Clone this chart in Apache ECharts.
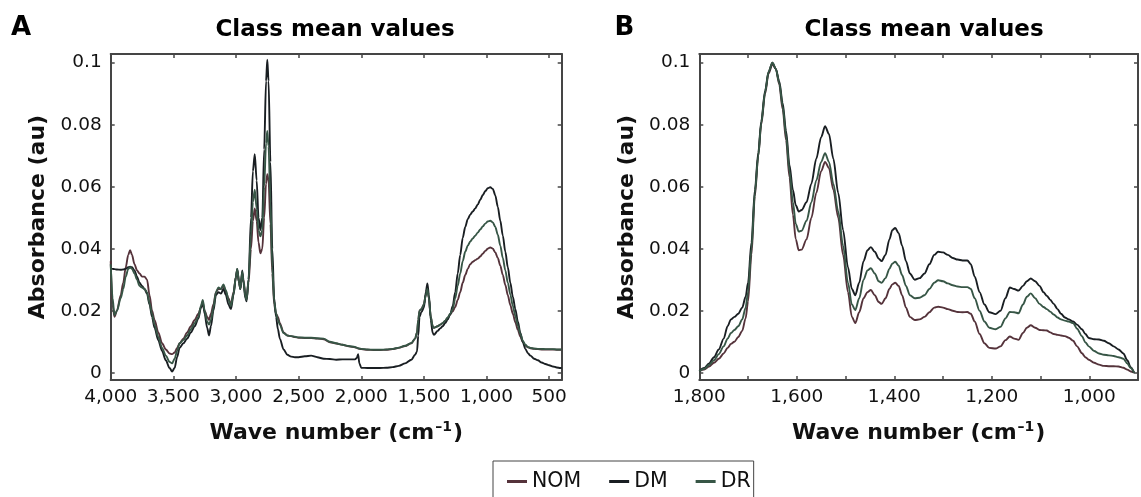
<!DOCTYPE html>
<html><head><meta charset="utf-8">
<script src="https://cdn.jsdelivr.net/npm/echarts@6/dist/echarts.min.js"></script>
<style>html,body{margin:0;padding:0;background:#fff}#c{width:1141px;height:497px}</style>
</head><body><div id="c"></div>
<script>
// ---------- Panel A data (wave number, cm-1) ----------
const wnA = [4000,3985,3970,3950,3920,3900,3880,3860,3845,3830,
3810,3790,3770,3750,3730,3710,3690,3670,3650,3620,
3590,3560,3530,3510,3490,3470,3450,3420,3390,3360,
3330,3300,3280,3265,3250,3230,3215,3200,3180,3160,
3140,3120,3100,3080,3060,3040,3020,3000,2990,2975,
2965,2950,2940,2925,2915,2900,2880,2865,2850,2835,
2820,2805,2790,2775,2760,2750,2740,2725,2710,2695,
2680,2665,2650,2620,2590,2560,2530,2500,2450,2400,
2350,2300,2250,2200,2150,2100,2050,2035,2025,2015,
2000,1950,1900,1850,1800,1750,1700,1650,1600,1570,
1555,1545,1535,1520,1500,1485,1472,1460,1445,1430,
1420,1390,1370,1350,1330,1310,1290,1270,1250,1230,
1210,1190,1170,1150,1130,1110,1090,1070,1050,1030,
1010,990,970,950,930,910,890,870,850,830,
810,790,770,750,730,710,690,670,650,620,
590,560,530,500,470,440,410,400];
const nomA = [.036,.022,.018,.020,.025,.029,.034,.038,.0395,.038,
.035,.033,.032,.031,.031,.030,.025,.020,.017,.013,
.0095,.0075,.0062,.006,.0065,.008,.0095,.011,.013,.015,
.017,.019,.021,.022,.020,.018,.017,.019,.022,.026,
.027,.027,.028,.026,.024,.022,.026,.031,.033,.029,
.027,.032,.030,.025,.024,.029,.040,.049,.053,.049,
.042,.0385,.040,.050,.061,.064,.062,.048,.032,.022,
.019,.018,.016,.013,.012,.0118,.0115,.0113,.0112,.0112,
.011,.0108,.0098,.0094,.009,.0085,.0082,.008,.0078,.0077,
.0076,.0074,.0073,.0073,.0074,.0076,.008,.0086,.0095,.011,
.013,.017,.020,.0205,.022,.025,.027,.024,.018,.015,
.0145,.015,.0155,.016,.0167,.0177,.0188,.0198,.0212,.0235,
.026,.029,.0315,.0335,.035,.0358,.0363,.0368,.0375,.0384,
.0393,.040,.0404,.040,.0388,.037,.0345,.0315,.0283,.025,
.0218,.019,.0163,.0138,.0116,.0099,.0088,.0082,.0079,.0077,
.0076,.0075,.0075,.0075,.0075,.0074,.0074,.0074];
const dmA = [.0335,.0335,.0334,.0333,.0332,.0333,.0335,.034,.0342,.034,
.033,.031,.029,.028,.027,.0255,.022,.018,.0145,.0105,
.007,.004,.0015,.0004,.0015,.005,.008,.0095,.011,.013,
.015,.0175,.021,.023,.019,.0145,.012,.015,.020,.025,
.026,.0255,.027,.025,.022,.0205,.025,.031,.0335,.029,
.027,.033,.029,.024,.023,.030,.050,.065,.0705,.062,
.050,.046,.050,.072,.094,.101,.094,.068,.040,.024,
.018,.014,.011,.0075,.0058,.0052,.005,.005,.0053,.0055,
.005,.0045,.0044,.0042,.0043,.0043,.0043,.0048,.006,.003,
.0016,.0015,.0015,.0015,.0016,.0018,.0022,.003,.0042,.0058,
.0068,.012,.018,.0195,.021,.026,.0288,.025,.017,.0128,
.0122,.0135,.0143,.015,.016,.0172,.0188,.0215,.026,.032,
.038,.0435,.047,.0495,.051,.052,.053,.0543,.0558,.0573,
.0586,.0595,.0598,.0593,.0572,.0535,.049,.0442,.039,.034,
.029,.0245,.0205,.0165,.0128,.0098,.0077,.0063,.0055,.0045,
.004,.0033,.0028,.0024,.002,.0017,.0015,.0015];
const drA = [.035,.024,.0185,.020,.024,.027,.031,.0335,.034,.0335,
.032,.030,.028,.0275,.027,.026,.0225,.019,.0155,.0115,
.008,.0055,.0035,.003,.0045,.007,.0095,.0105,.012,.014,
.016,.018,.0215,.0235,.020,.0165,.0155,.017,.021,.026,
.0275,.027,.0285,.0265,.0235,.0215,.0255,.031,.0335,.029,
.027,.0325,.0295,.0245,.0235,.030,.045,.055,.059,.053,
.046,.044,.046,.060,.074,.078,.073,.055,.034,.023,
.019,.017,.0155,.0128,.012,.0118,.0116,.0114,.0113,.0113,
.0111,.011,.010,.0095,.009,.0086,.0083,.0081,.0079,.0078,
.0077,.0075,.0074,.0074,.0075,.0077,.0081,.0087,.0096,.011,
.013,.017,.020,.0205,.022,.025,.027,.024,.018,.015,
.0145,.015,.0155,.016,.0168,.0178,.019,.0205,.024,.028,
.032,.036,.039,.041,.0423,.0433,.0442,.0452,.0462,.0472,
.0481,.0488,.049,.0485,.047,.0445,.041,.037,.033,.029,
.0252,.0215,.0183,.0152,.0124,.0103,.009,.0083,.008,.0078,
.0077,.0077,.0076,.0076,.0076,.0075,.0075,.0075];

// ---------- Panel B data ----------
const wnB = [1800,1790,1780,1770,1760,1750,1742,1735,1728,1720,
1712,1705,1700,1693,1686,1679,1673,1665,1658,1650,
1643,1636,1629,1622,1615,1608,1602,1596,1590,1580,
1570,1560,1550,1542,1534,1525,1515,1505,1495,1487,
1480,1472,1463,1455,1448,1440,1432,1426,1418,1410,
1404,1398,1391,1384,1376,1368,1358,1348,1338,1328,
1318,1310,1300,1290,1280,1270,1260,1250,1243,1235,
1225,1215,1205,1192,1182,1172,1163,1154,1145,1136,
1128,1120,1111,1102,1094,1087,1080,1073,1065,1058,
1050,1042,1033,1025,1015,1008,1001,990,980,970,
960,950,940,930,922,915,908];
const nomB = [.0005,.001,.002,.0032,.0045,.0062,.008,.0093,.010,.0115,
.0135,.0175,.023,.038,.057,.070,.080,.090,.0965,.0995,
.098,.093,.085,.075,.063,.051,.043,.0395,.0397,.043,
.050,.058,.065,.068,.066,.059,.050,.038,.026,.018,
.016,.0195,.024,.026,.0267,.025,.0228,.0222,.024,.027,
.0285,.029,.028,.025,.021,.018,.017,.0172,.018,.0195,
.021,.0213,.021,.0205,.020,.0196,.0195,.0196,.019,.0165,
.0125,.0095,.008,.0078,.0085,.0105,.0117,.011,.0106,.0128,
.0145,.0153,.0145,.0138,.0137,.0136,.013,.0125,.0122,.012,
.0118,.0113,.0103,.0085,.0063,.005,.0042,.0032,.0026,.0022,
.0021,.0021,.002,.0016,.001,.0004,0];
const dmB = [.0005,.0015,.003,.005,.0075,.011,.015,.0172,.018,.019,
.021,.0245,.029,.042,.059,.071,.081,.091,.097,.1,
.098,.094,.087,.078,.067,.059,.054,.052,.0525,.055,
.061,.069,.076,.0795,.077,.069,.058,.046,.034,.027,
.025,.029,.036,.0395,.0405,.039,.0368,.036,.038,.043,
.046,.0467,.045,.041,.036,.032,.030,.0305,.032,.035,
.038,.039,.0388,.038,.037,.0365,.0362,.0362,.035,.031,
.026,.022,.0195,.0189,.020,.024,.0275,.027,.0265,.028,
.0295,.0304,.0295,.028,.026,.0248,.0235,.0222,.0205,.019,
.0178,.0172,.0165,.0155,.014,.0125,.0112,.0108,.0107,.0103,
.0095,.0085,.0075,.0062,.004,.0018,0];
const drB = [.0005,.0013,.0025,.004,.006,.0085,.011,.0128,.0138,.015,
.0172,.021,.026,.040,.058,.070,.0805,.0905,.097,.1,
.098,.0935,.086,.0765,.065,.055,.048,.0455,.0458,.049,
.055,.062,.068,.0708,.068,.061,.052,.041,.029,.022,
.0202,.024,.030,.033,.0337,.032,.0295,.029,.0305,.0335,
.0352,.0358,.0345,.0315,.028,.025,.024,.0242,.025,.027,
.029,.0298,.0295,.0288,.0282,.0278,.0276,.0276,.027,.024,
.020,.0165,.0145,.014,.0148,.0175,.0196,.0195,.0192,.022,
.0245,.0256,.024,.0222,.0212,.0205,.0197,.0188,.0178,.0172,
.0168,.0165,.016,.0142,.0118,.0098,.0085,.007,.0062,.0058,
.0056,.0054,.005,.0045,.003,.0015,0];

const seriesNames = ['NOM', 'DM', 'DR'];
const panelTitles = ['Class mean values', 'Class mean values'];
const panelLetters = ['A', 'B'];
const yAxisTitle = 'Absorbance (au)';

// ---------- styling ----------
const FONT = '"DejaVu Sans", "Liberation Sans", Arial, sans-serif';
const colors = ['#55333b', '#191e22', '#375646'];
const AX = '#454545';
const TXT = '#111';

function zip(x, y) { return x.map((v, i) => [v, y[i]]); }
function thousands(v) {
  v = Math.round(v);
  return v >= 1000 ? Math.floor(v / 1000) + ',' + String(v % 1000).padStart(3, '0') : String(v);
}
function fmtY(v) {
  const k = v / 0.02;
  if (Math.abs(k - Math.round(k)) > 1e-6) return '';
  return String(parseFloat(v.toFixed(2)));
}
function fmtXA(v) { return Math.abs(v % 500) < 1e-6 ? thousands(v) : ''; }
function fmtXB(v) { return Math.abs(v % 200) < 1e-6 ? thousands(v) : ''; }

const grids = [
  { left: 110.7, top: 54, width: 451, height: 326 },
  { left: 699.3, top: 54, width: 445.5, height: 326 }
];

function yAxis(gi, pos) {
  const main = pos === 'left';
  return {
    type: 'value', gridIndex: gi, position: pos,
    min: -0.00235, max: 0.1028, splitNumber: 5,
    axisLine: { show: true, onZero: false, lineStyle: { color: AX, width: 2 } },
    axisTick: { show: true, inside: true, length: 4, lineStyle: { color: AX, width: 1.5 } },
    axisLabel: { show: main, formatter: fmtY, fontSize: 18.5, color: TXT, margin: 9,
      fontFamily: FONT, showMinLabel: false, showMaxLabel: false },
    splitLine: { show: false },
    name: main ? yAxisTitle : '', nameLocation: 'middle', nameGap: 61,
    nameTextStyle: { fontSize: 22, fontWeight: 'bold', color: TXT, fontFamily: FONT }
  };
}
function xAxis(gi, pos, panel) {
  const main = pos === 'bottom';
  const base = {
    type: 'value', gridIndex: gi, position: pos, inverse: true,
    axisLine: { show: true, onZero: false, lineStyle: { color: AX, width: 2 } },
    axisTick: { show: true, inside: true, length: 4, lineStyle: { color: AX, width: 1.5 } },
    axisLabel: { show: main, fontSize: 18.5, color: TXT, margin: 8, fontFamily: FONT,
      showMinLabel: panel === 'A' ? false : true },
    splitLine: { show: false }
  };
  if (panel === 'A') {
    base.min = 400; base.max = 4000; base.splitNumber = 7;
    base.axisLabel.formatter = fmtXA;
  } else {
    base.min = 900; base.max = 1800; base.interval = 100;
    base.axisLabel.formatter = fmtXB;
  }
  if (main) {
    base.name = '{a|Wave number (cm}{s|–1}{a|)}';
    base.nameLocation = 'middle';
    base.nameGap = 40;
    base.nameTextStyle = {
      rich: {
        a: { fontSize: 22, fontWeight: 'bold', color: TXT, fontFamily: FONT, lineHeight: 26 },
        s: { fontSize: 14, fontWeight: 'bold', color: TXT, fontFamily: FONT, verticalAlign: 'top', lineHeight: 26, padding: [0, 1, 12, 1] }
      }
    };
  }
  return base;
}

const series = [];
const dataA = [nomA, dmA, drA];
const dataB = [nomB, dmB, drB];
seriesNames.forEach((n, i) => {
  series.push({ name: n, type: 'line', xAxisIndex: 0, yAxisIndex: 0, data: zip(wnA, dataA[i]),
    showSymbol: false, smooth: 0.3, smoothMonotone: 'x', lineStyle: { color: colors[i], width: 1.9 },
    itemStyle: { color: colors[i] }, clip: true });
  series.push({ name: n, type: 'line', xAxisIndex: 1, yAxisIndex: 1, data: zip(wnB, dataB[i]),
    showSymbol: false, smooth: 0.3, smoothMonotone: 'x', lineStyle: { color: colors[i], width: 1.9 },
    itemStyle: { color: colors[i] }, clip: true });
});

const chart = echarts.init(document.getElementById('c'), null, { renderer: 'canvas' });
chart.setOption({
  animation: false,
  backgroundColor: '#fff',
  grid: grids,
  xAxis: [xAxis(0, 'bottom', 'A'), xAxis(1, 'bottom', 'B'), xAxis(0, 'top', 'A'), xAxis(1, 'top', 'B')],
  yAxis: [yAxis(0, 'left'), yAxis(1, 'left'), yAxis(0, 'right'), yAxis(1, 'right')],
  legend: {
    data: seriesNames, left: 493, top: 461, orient: 'horizontal',
    icon: 'rect', itemWidth: 20, itemHeight: 3, itemGap: 28,
    borderColor: '#444', borderWidth: 1, padding: [10, 3, 20, 14],
    textStyle: { fontSize: 20.5, color: TXT, fontFamily: FONT },
    selectedMode: false
  },
  graphic: [
    { type: 'text', x: 21, y: 28, style: { text: panelLetters[0], fontSize: 26, fontWeight: 'bold', fill: '#000', fontFamily: FONT, align: 'center', verticalAlign: 'middle' } },
    { type: 'text', x: 624.5, y: 28, style: { text: panelLetters[1], fontSize: 26, fontWeight: 'bold', fill: '#000', fontFamily: FONT, align: 'center', verticalAlign: 'middle' } },
    { type: 'text', x: 335, y: 30, style: { text: panelTitles[0], fontSize: 23, fontWeight: 'bold', fill: '#000', fontFamily: FONT, align: 'center', verticalAlign: 'middle' } },
    { type: 'text', x: 924, y: 30, style: { text: panelTitles[1], fontSize: 23, fontWeight: 'bold', fill: '#000', fontFamily: FONT, align: 'center', verticalAlign: 'middle' } }
  ],
  series: series
});
</script></body></html>
